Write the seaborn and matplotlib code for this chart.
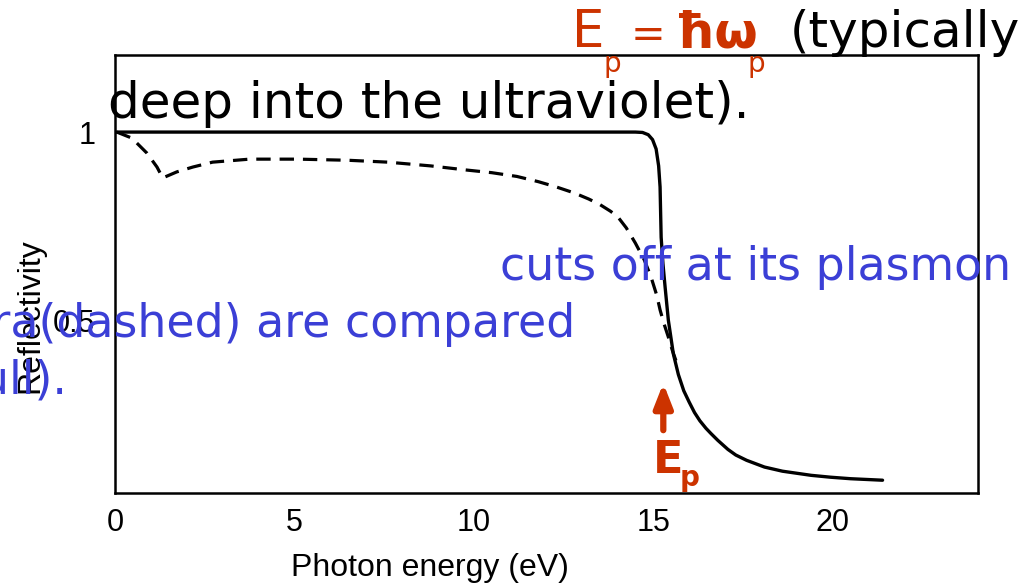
import numpy as np
import pandas as pd
import matplotlib
matplotlib.use("Agg")
import matplotlib.pyplot as plt
import seaborn as sns

# ---- data ----
solid_energy = [0, 3, 6, 9, 12, 14.5, 14.7, 14.86, 14.98, 15.08, 15.15, 15.19, 15.22,
                15.27, 15.33, 15.42, 15.56, 15.7, 15.85, 16.0, 16.15, 16.3, 16.47, 16.61,
                16.8, 17.08, 17.3, 17.6, 18.1, 18.6, 19.4, 19.94, 20.5, 21.39]
solid_refl = [1.0, 1.0, 1.0, 1.0, 1.0, 1.0, 0.999, 0.993, 0.98, 0.955, 0.91, 0.854, 0.72,
              0.65, 0.588, 0.50, 0.41, 0.355, 0.312, 0.282, 0.254, 0.232, 0.212, 0.198,
              0.18, 0.156, 0.141, 0.127, 0.109, 0.098, 0.087, 0.082, 0.078, 0.074]

dashed_energy = [0.05, 0.47, 0.89, 1.17, 1.33, 1.72, 2.17, 2.72, 3.75, 5.1, 6.5, 7.6,
                 8.8, 9.8, 10.5, 11.2, 11.8, 12.3, 12.8, 13.2, 13.5, 13.8, 14.0, 14.25,
                 14.5, 14.75, 14.94, 15.1, 15.19, 15.3, 15.42, 15.53, 15.64]
dashed_refl = [1.0, 0.984, 0.944, 0.907, 0.878, 0.894, 0.907, 0.92, 0.928, 0.928, 0.925, 0.92,
               0.91, 0.899, 0.892, 0.882, 0.868, 0.854, 0.838, 0.822, 0.808, 0.79, 0.776, 0.745,
               0.705, 0.66, 0.614, 0.565, 0.527, 0.49, 0.455, 0.42, 0.39]

x_ticks = [0, 5, 10, 15, 20]
x_ticklabels = ["0", "5", "10", "15", "20"]
y_ticks = [0.5, 1]
y_ticklabels = ["0.5", "1"]

ep_energy = 15.28  # plasmon energy marker (eV)

solid_df = pd.DataFrame({"Photon energy (eV)": solid_energy, "Reflectivity": solid_refl})
dashed_df = pd.DataFrame({"Photon energy (eV)": dashed_energy, "Reflectivity": dashed_refl})

# ---- style ----
sns.set_style("white")
plt.rcParams["font.family"] = ["Liberation Sans", "DejaVu Sans"]
plt.rcParams["text.color"] = "black"
plt.rcParams["axes.labelcolor"] = "black"

W, H = 1024, 588
fig = plt.figure(figsize=(W / 100, H / 100), dpi=100)
fig.patch.set_facecolor("white")

def fx(px):
    return px / W

def fy(py):
    return 1 - py / H

ax = fig.add_axes([fx(115), fy(493), fx(978) - fx(115), fy(55) - fy(493)])

sns.lineplot(data=solid_df, x="Photon energy (eV)", y="Reflectivity", ax=ax,
             color="black", linewidth=2.4, sort=False,
             solid_capstyle="round", solid_joinstyle="round")
sns.lineplot(data=dashed_df, x="Photon energy (eV)", y="Reflectivity", ax=ax,
             color="black", linewidth=2.3, linestyle=(0, (4.5, 2.8)), sort=False,
             dash_joinstyle="round")

ax.set_xlim(0, 24.05)
ax.set_ylim(0.04, 1.205)
ax.set_xticks(x_ticks)
ax.set_xticklabels(x_ticklabels)
ax.set_yticks(y_ticks)
ax.set_yticklabels(y_ticklabels)
ax.tick_params(axis="both", direction="in", length=7, width=1.4, labelsize=22,
               colors="black", labelcolor="black")
ax.tick_params(axis="x", pad=11)
ax.tick_params(axis="y", pad=14)
for sp in ax.spines.values():
    sp.set_visible(True)
    sp.set_color("black")
    sp.set_linewidth(1.8)

ax.set_xlabel("Photon energy (eV)", fontsize=23, color="black")
ax.set_ylabel("Reflectivity", fontsize=23, color="black")
ax.xaxis.set_label_coords((430 - 115) / 863, (493 - 553) / 438)
ax.yaxis.set_label_coords((45 - 115) / 863, (493 - 316) / 438)

# ---- Ep arrow under the curves ----
orange = "#cc3300"
blue = "#3b3fd6"
ovf = ["DejaVu Sans"]

ax.annotate("", xy=(ep_energy, 0.332), xytext=(ep_energy, 0.207),
            arrowprops=dict(arrowstyle="-|>,head_length=1.4,head_width=0.55",
                            color=orange, lw=4.5, shrinkA=0, shrinkB=0))

fig.text(fx(653), fy(473), "E", color=orange, fontsize=32, fontweight="bold",
         family=ovf, va="baseline", ha="left")
fig.text(fx(680), fy(486), "p", color=orange, fontsize=20, fontweight="bold",
         family=ovf, va="baseline", ha="left")

# ---- overlay slide text ----
fig.text(fx(572), fy(47), "E", color=orange, fontsize=37, family=ovf,
         va="baseline", ha="left")
fig.text(fx(604), fy(72), "p", color=orange, fontsize=20, family=ovf,
         va="baseline", ha="left")
fig.text(fx(631), fy(47), "=", color=orange, fontsize=30, family=ovf,
         va="baseline", ha="left")
fig.text(fx(675), fy(47), "ħω", color=orange, fontsize=36, family=ovf,
         fontweight="bold", va="baseline", ha="left")
fig.text(fx(748), fy(72), "p", color=orange, fontsize=20, family=ovf,
         va="baseline", ha="left")
fig.text(fx(790), fy(47), "(typically", color="black", fontsize=36, family=ovf,
         va="baseline", ha="left")
fig.text(fx(108), fy(118), "deep into the ultraviolet).", color="black",
         fontsize=36, family=ovf, va="baseline", ha="left")
fig.text(fx(500), fy(280), "cuts off at its plasmon", color=blue, fontsize=33,
         family=ovf, va="baseline", ha="left")
fig.text(fx(575), fy(337), "spectra(dashed) are compared", color=blue, fontsize=33,
         family=ovf, va="baseline", ha="right")
fig.text(fx(67), fy(393), "(full).", color=blue, fontsize=33,
         family=ovf, va="baseline", ha="right")

fig.savefig("out.png", dpi=100)
